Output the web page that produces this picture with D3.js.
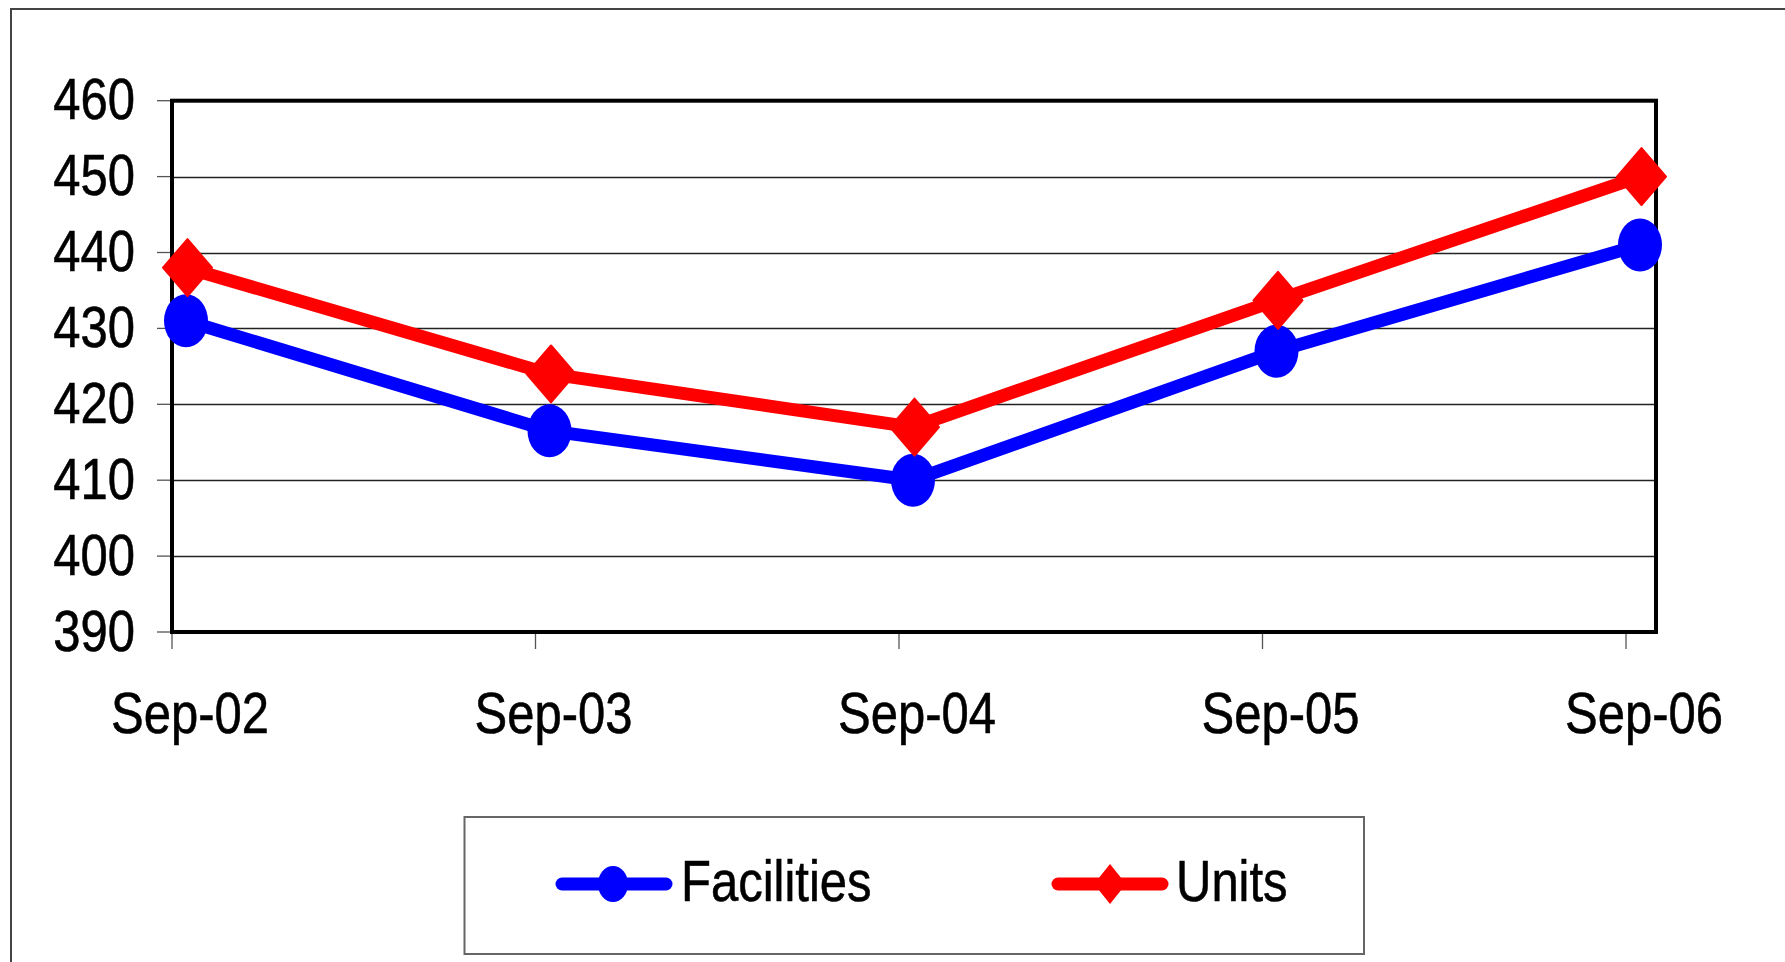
<!DOCTYPE html>
<html>
<head>
<meta charset="utf-8">
<script src="https://cdn.jsdelivr.net/npm/d3@7"></script>
<style>
  html, body { margin: 0; padding: 0; background: #fff; }
  svg { display: block; }
  text { font-family: "Liberation Sans", Arial, sans-serif; fill: #000; stroke: #000; stroke-width: 0.5; }
</style>
</head>
<body>
<script>
// ---- data ----
const categories = ["Sep-02", "Sep-03", "Sep-04", "Sep-05", "Sep-06"];
const facilities = [431, 416.5, 410, 427, 441];
const units = [438, 424, 417, 433.7, 450];
const yTicks = [390, 400, 410, 420, 430, 440, 450, 460];
const seriesNames = ["Facilities", "Units"];

const W = 1785, H = 962;
const svg = d3.select("body").append("svg").attr("width", W).attr("height", H);

// outer frame
svg.append("path").attr("d", `M11,${H} L11,9 L${W},9`)
  .attr("fill", "none").attr("stroke", "#444").attr("stroke-width", 2);

const plot = { left: 172, right: 1656, top: 100.7, bottom: 632 };
const y = d3.scaleLinear().domain([390, 460]).range([plot.bottom, plot.top]);
const x = d3.scalePoint().domain(categories).range([186, 1640]);
const tickOffset = -14;
const SY = 1.18; // vertical stretch of text
const FS = 49;

// gridlines
svg.append("g").selectAll("line").data(yTicks.filter(d => d !== 390 && d !== 460)).join("line")
  .attr("x1", plot.left).attr("x2", plot.right)
  .attr("y1", d => Math.round(y(d)) + 0.5).attr("y2", d => Math.round(y(d)) + 0.5)
  .attr("stroke", "#222").attr("stroke-width", 1.3);

// y ticks
svg.append("g").selectAll("line").data(yTicks).join("line")
  .attr("x1", 157).attr("x2", plot.left)
  .attr("y1", d => y(d)).attr("y2", d => y(d))
  .attr("stroke", "#555").attr("stroke-width", 1.3);

// x ticks
svg.append("g").selectAll("line").data(categories).join("line")
  .attr("x1", d => x(d) + tickOffset).attr("x2", d => x(d) + tickOffset)
  .attr("y1", plot.bottom).attr("y2", plot.bottom + 17)
  .attr("stroke", "#555").attr("stroke-width", 1.3);

// plot border
svg.append("rect").attr("x", plot.left).attr("y", plot.top)
  .attr("width", plot.right - plot.left).attr("height", plot.bottom - plot.top)
  .attr("fill", "none").attr("stroke", "#000").attr("stroke-width", 4);

// y labels
svg.append("g").selectAll("text").data(yTicks).join("text")
  .attr("transform", d => `translate(135,${y(d) + 18.5}) scale(1,${SY})`)
  .attr("text-anchor", "end").attr("font-size", FS)
  .text(d => d);

// x labels
svg.append("g").selectAll("text").data(categories).join("text")
  .attr("transform", d => `translate(${x(d) + 4},733) scale(1,${SY})`)
  .attr("text-anchor", "middle").attr("font-size", FS)
  .text(d => d);

const line = d3.line().x((d, i) => x(categories[i])).y(d => y(d));
const colors = { Facilities: "#0000ff", Units: "#ff0000" };

function diamondPath(hw, hh) {
  return `M0,${-hh} L${hw},0 L0,${hh} L${-hw},0 Z`;
}

// Facilities series
svg.append("path").datum(facilities).attr("d", line)
  .attr("fill", "none").attr("stroke", colors.Facilities).attr("stroke-width", 13)
  .attr("stroke-linejoin", "round");
// Units series
svg.append("path").datum(units).attr("d", line)
  .attr("fill", "none").attr("stroke", colors.Units).attr("stroke-width", 13)
  .attr("stroke-linejoin", "round");

svg.append("g").selectAll("ellipse").data(facilities).join("ellipse")
  .attr("cx", (d, i) => x(categories[i])).attr("cy", d => y(d))
  .attr("rx", 22).attr("ry", 26.5).attr("fill", colors.Facilities);

svg.append("g").selectAll("path").data(units).join("path")
  .attr("transform", (d, i) => `translate(${x(categories[i]) + 1.5},${y(d)})`)
  .attr("d", diamondPath(24.5, 28.5))
  .attr("fill", colors.Units).attr("stroke", colors.Units).attr("stroke-width", 2)
  .attr("stroke-linejoin", "round");

// legend
const lg = svg.append("g");
lg.append("rect").attr("x", 464.5).attr("y", 817).attr("width", 899.5).attr("height", 137)
  .attr("fill", "none").attr("stroke", "#666").attr("stroke-width", 2);

const legendItems = [
  { name: seriesNames[0], x1: 562, x2: 666, mx: 613, tx: 681 },
  { name: seriesNames[1], x1: 1058, x2: 1162, mx: 1110, tx: 1176 }
];
const ly = 884;
legendItems.forEach(it => {
  lg.append("line").attr("x1", it.x1).attr("x2", it.x2).attr("y1", ly).attr("y2", ly)
    .attr("stroke", colors[it.name]).attr("stroke-width", 13).attr("stroke-linecap", "round");
  if (it.name === "Facilities") {
    lg.append("ellipse").attr("cx", it.mx).attr("cy", ly).attr("rx", 15).attr("ry", 18)
      .attr("fill", colors[it.name]);
  } else {
    lg.append("path").attr("transform", `translate(${it.mx},${ly})`)
      .attr("d", diamondPath(16, 20)).attr("fill", colors[it.name]);
  }
  lg.append("text").attr("transform", `translate(${it.tx},900.5) scale(1,${SY})`)
    .attr("font-size", FS).text(it.name);
});
</script>
</body>
</html>
